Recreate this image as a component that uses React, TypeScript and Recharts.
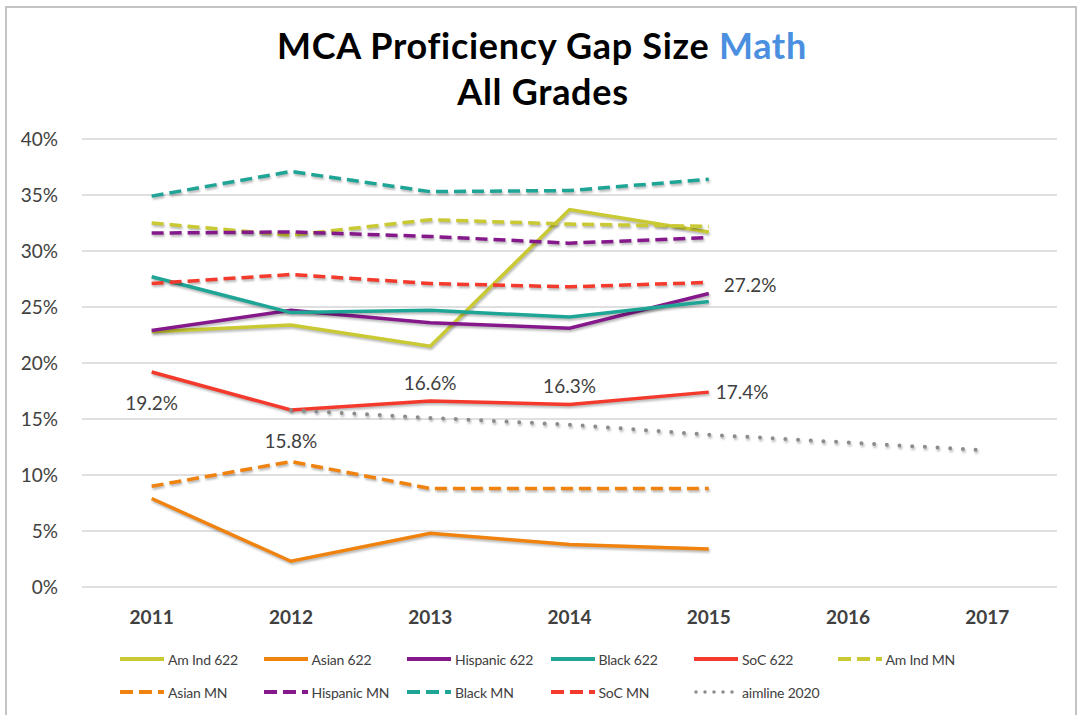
import React from "react";
import { LineChart, Line, XAxis, YAxis, CartesianGrid, LabelList } from "recharts";

const years = ["2011", "2012", "2013", "2014", "2015", "2016", "2017"];
const yTicks = [0, 0.05, 0.1, 0.15, 0.2, 0.25, 0.3, 0.35, 0.4];

const amInd622 = [0.228, 0.234, 0.215, 0.337, 0.317, null, null];
const asian622 = [0.079, 0.023, 0.048, 0.038, 0.034, null, null];
const hispanic622 = [0.229, 0.247, 0.236, 0.231, 0.262, null, null];
const black622 = [0.277, 0.245, 0.247, 0.241, 0.255, null, null];
const soc622 = [0.192, 0.158, 0.166, 0.163, 0.174, null, null];
const amIndMN = [0.325, 0.314, 0.328, 0.324, 0.322, null, null];
const asianMN = [0.090, 0.112, 0.088, 0.088, 0.088, null, null];
const hispanicMN = [0.316, 0.317, 0.313, 0.307, 0.312, null, null];
const blackMN = [0.349, 0.371, 0.353, 0.354, 0.364, null, null];
const socMN = [0.271, 0.279, 0.271, 0.268, 0.272, null, null];
const aimline2020 = [null, 0.158, 0.151, 0.145, 0.136, 0.129, 0.122];

const data = years.map((y, i) => ({
  year: y,
  amInd622: amInd622[i],
  asian622: asian622[i],
  hispanic622: hispanic622[i],
  black622: black622[i],
  soc622: soc622[i],
  amIndMN: amIndMN[i],
  asianMN: asianMN[i],
  hispanicMN: hispanicMN[i],
  blackMN: blackMN[i],
  socMN: socMN[i],
  aimline: aimline2020[i],
}));

const C_AMIND = "#C9C934";
const C_ASIAN = "#F0820F";
const C_HISP = "#85198C";
const C_BLACK = "#1FA596";
const C_SOC = "#F43A2C";
const C_AIM = "#8C8C8C";

const DASH = "12 6";
const DOT = "0 12.7";

type S = { key: string; name: string; color: string; kind: "solid" | "dash" | "dot" };
const series: S[] = [
  { key: "amInd622", name: "Am Ind 622", color: C_AMIND, kind: "solid" },
  { key: "asian622", name: "Asian 622", color: C_ASIAN, kind: "solid" },
  { key: "hispanic622", name: "Hispanic 622", color: C_HISP, kind: "solid" },
  { key: "black622", name: "Black 622", color: C_BLACK, kind: "solid" },
  { key: "soc622", name: "SoC 622", color: C_SOC, kind: "solid" },
  { key: "amIndMN", name: "Am Ind MN", color: C_AMIND, kind: "dash" },
  { key: "asianMN", name: "Asian MN", color: C_ASIAN, kind: "dash" },
  { key: "hispanicMN", name: "Hispanic MN", color: C_HISP, kind: "dash" },
  { key: "blackMN", name: "Black MN", color: C_BLACK, kind: "dash" },
  { key: "socMN", name: "SoC MN", color: C_SOC, kind: "dash" },
  { key: "aimline", name: "aimline 2020", color: C_AIM, kind: "dot" },
];

const FONT = "Lato, 'Open Sans', sans-serif";
const TXT = "#404040";

const pct = (v: number) => `${(v * 100).toFixed(1)}%`;

const socLabel = (props: any) => {
  const { x, y, value, index } = props;
  if (value == null) return null;
  // placement per point: below, below, above, above, right
  const place = ["below", "below", "above", "above", "right"][index] || "above";
  let tx = x, ty = y, anchor: any = "middle";
  if (place === "below") ty = y + 38;
  if (place === "above") ty = y - 11;
  if (place === "right") { tx = x + 7; ty = y + 7; anchor = "start"; }
  return (
    <text x={tx} y={ty} textAnchor={anchor} fill={TXT} fontSize={19} fontFamily={FONT}>
      {pct(value)}
    </text>
  );
};

const socMNLabel = (props: any) => {
  const { x, y, value, index } = props;
  if (value == null || index !== 4) return null;
  return (
    <text x={x + 15} y={y + 10} textAnchor="start" fill={TXT} fontSize={19} fontFamily={FONT}>
      {pct(value)}
    </text>
  );
};

const LegendSample = ({ s }: { s: S }) => (
  <svg width={44} height={10} style={{ display: "block", flex: "none" }}>
    <line
      x1={s.kind === "dot" ? 2 : 0}
      y1={5}
      x2={44}
      y2={5}
      stroke={s.color}
      strokeWidth={s.kind === "dot" ? 3.5 : 4}
      strokeDasharray={s.kind === "dash" ? "13 6" : s.kind === "dot" ? "0 9" : undefined}
      strokeLinecap={s.kind === "dot" ? "round" : "butt"}
    />
  </svg>
);

const legendRows = [series.slice(0, 6), series.slice(6)];

export default function App() {
  return (
    <div
      style={{
        position: "absolute",
        left: 0,
        top: 0,
        width: 1081,
        height: 715,
        background: "#fff",
        fontFamily: FONT,
        overflow: "hidden",
      }}
    >
      <style>{`.recharts-line-curve{filter:drop-shadow(1.5px 2px 1.2px rgba(0,0,0,0.28));}`}</style>
      <div
        style={{
          position: "absolute",
          left: 5,
          top: 6,
          width: 1072,
          height: 712,
          border: "2px solid #c4c4c4",
          boxSizing: "border-box",
        }}
      />
      <svg width={1081} height={120} style={{ position: "absolute", left: 0, top: 0 }}>
        <text x={542} y={59} textAnchor="middle" fontFamily={FONT} fontWeight={700} fontSize={36} letterSpacing={0.7} fill="#000">
          MCA Proficiency Gap Size <tspan fill="#4A8FE0">Math</tspan>
        </text>
        <text x={543} y={105} textAnchor="middle" fontFamily={FONT} fontWeight={700} fontSize={36} letterSpacing={0.7} fill="#000">
          All Grades
        </text>
      </svg>
      <div style={{ position: "absolute", left: 0, top: 0 }}>
        <LineChart
          width={1081}
          height={640}
          data={data}
          margin={{ top: 139, right: 24, bottom: 13, left: 0 }}
        >
          <CartesianGrid vertical={false} stroke="#d4d4d4" strokeWidth={1.5} />
          <XAxis
            dataKey="year"
            scale="band"
            axisLine={false}
            tickLine={false}
            height={40}
            tickMargin={18}
            tick={{ fill: TXT, fontSize: 19, fontFamily: FONT, fontWeight: 700 }}
          />
          <YAxis
            width={82}
            domain={[0, 0.4]}
            ticks={yTicks}
            tickFormatter={(v: number) => `${Math.round(v * 100)}%`}
            axisLine={false}
            tickLine={false}
            tickMargin={18}
            tick={{ fill: TXT, fontSize: 19, fontFamily: FONT }}
          />
          {series.map((s) => (
            <Line
              key={s.key}
              dataKey={s.key}
              name={s.name}
              type="linear"
              stroke={s.color}
              strokeWidth={s.kind === "dot" ? 4 : 3.5}
              strokeDasharray={s.kind === "dash" ? DASH : s.kind === "dot" ? DOT : undefined}
              strokeLinecap={s.kind === "dot" ? "round" : "butt"}
              dot={false}
              activeDot={false}
              isAnimationActive={false}
              connectNulls={false}
            >
              {s.key === "soc622" ? <LabelList dataKey="soc622" content={socLabel} /> : null}
              {s.key === "socMN" ? <LabelList dataKey="socMN" content={socMNLabel} /> : null}
            </Line>
          ))}
        </LineChart>
      </div>
      {legendRows.map((row, r) => (
        <div
          key={r}
          style={{
            position: "absolute",
            left: 120,
            top: r === 0 ? 650 : 683,
            display: "flex",
          }}
        >
          {row.map((s) => (
            <div
              key={s.key}
              style={{ width: 143.5, display: "flex", alignItems: "center", height: 18 }}
            >
              <LegendSample s={s} />
              <span style={{ marginLeft: 4, fontSize: 14, color: TXT, whiteSpace: "nowrap", letterSpacing: -0.2 }}>
                {s.name}
              </span>
            </div>
          ))}
        </div>
      ))}
    </div>
  );
}
